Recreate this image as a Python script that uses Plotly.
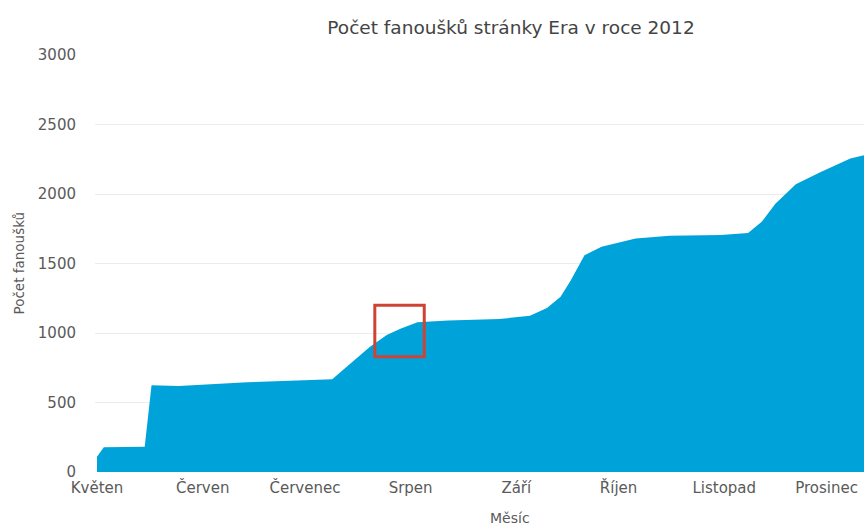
import plotly.graph_objects as go

# Cumulative fan count of the Era page during 2012
dates = [
    "2012-05-01", "2012-05-03", "2012-05-15", "2012-05-17", "2012-05-25",
    "2012-06-14", "2012-07-09", "2012-07-20", "2012-07-25", "2012-07-29",
    "2012-08-03", "2012-08-12", "2012-08-27", "2012-09-05", "2012-09-10",
    "2012-09-14", "2012-09-17", "2012-09-21", "2012-09-26", "2012-10-06",
    "2012-10-16", "2012-10-31", "2012-11-08", "2012-11-12", "2012-11-16",
    "2012-11-22", "2012-11-29", "2012-12-08", "2012-12-13",
]
fans = [
    110, 178, 182, 625, 618,
    645, 668, 900, 985, 1030,
    1078, 1090, 1100, 1125, 1180,
    1260, 1380, 1560, 1620, 1680,
    1700, 1705, 1720, 1800, 1930,
    2070, 2155, 2255, 2285,
]

month_starts = ["2012-05-01", "2012-06-01", "2012-07-01", "2012-08-01",
                "2012-09-01", "2012-10-01", "2012-11-01", "2012-12-01"]
month_names = ["Květen", "Červen", "Červenec", "Srpen",
               "Září", "Říjen", "Listopad", "Prosinec"]
y_ticks = [0, 500, 1000, 1500, 2000, 2500, 3000]

FONT = "DejaVu Sans, Liberation Sans, Arial, sans-serif"
TICK_COLOR = "#5a5a5a"

L, T, B = 95, 55, 53          # plot margins in px
W, H = 864, 525
PW, PH = W - L, H - T - B     # plot area size

fig = go.Figure()
fig.add_trace(go.Scatter(
    x=dates, y=fans,
    mode="lines",
    line=dict(width=0, color="#00a3d9"),
    fill="tozeroy",
    fillcolor="#00a3d9",
    hoverinfo="x+y",
    showlegend=False,
))

# highlight box around the August climb
fig.add_shape(
    type="rect", xref="x", yref="y",
    x0="2012-07-21 12:00", x1="2012-08-05",
    y0=830, y1=1200,
    line=dict(color="#cf4334", width=3),
    fillcolor="rgba(0,0,0,0)",
)

fig.update_layout(
    width=W, height=H,
    margin=dict(l=L, r=0, t=T, b=B),
    paper_bgcolor="white",
    plot_bgcolor="white",
    font=dict(family=FONT, color=TICK_COLOR, size=15),
    title=dict(
        text="Počet fanoušků stránky Era v roce 2012",
        x=511 / W, xanchor="center", xref="container",
        y=1 - 28 / H, yanchor="middle", yref="container",
        font=dict(family=FONT, size=18.5, color="#444444"),
    ),
    xaxis=dict(
        type="date",
        range=["2012-04-30 10:00", "2012-12-12"],
        tickmode="array",
        tickvals=month_starts,
        ticktext=month_names,
        showgrid=False,
        zeroline=False,
        showline=False,
        ticks="",
        ticklabelstandoff=5,
        tickfont=dict(size=15, color=TICK_COLOR),
    ),
    yaxis=dict(
        range=[0, 3000],
        tickmode="array",
        tickvals=y_ticks,
        showgrid=True,
        gridcolor="#ececec",
        gridwidth=1,
        zeroline=False,
        showline=False,
        ticks="",
        ticklabelstandoff=18,
        tickfont=dict(size=15, color=TICK_COLOR),
    ),
    annotations=[
        dict(
            text="Měsíc", xref="paper", yref="paper",
            x=(510 - L) / PW, y=-(518 - (H - B)) / PH,
            xanchor="center", yanchor="middle", showarrow=False,
            font=dict(family=FONT, size=14, color=TICK_COLOR),
        ),
        dict(
            text="Počet fanoušků", xref="paper", yref="paper",
            x=(18 - L) / PW, y=0.5, textangle=-90,
            xanchor="center", yanchor="middle", showarrow=False,
            font=dict(family=FONT, size=13.5, color=TICK_COLOR),
        ),
    ],
)

fig.write_html("out.html")
